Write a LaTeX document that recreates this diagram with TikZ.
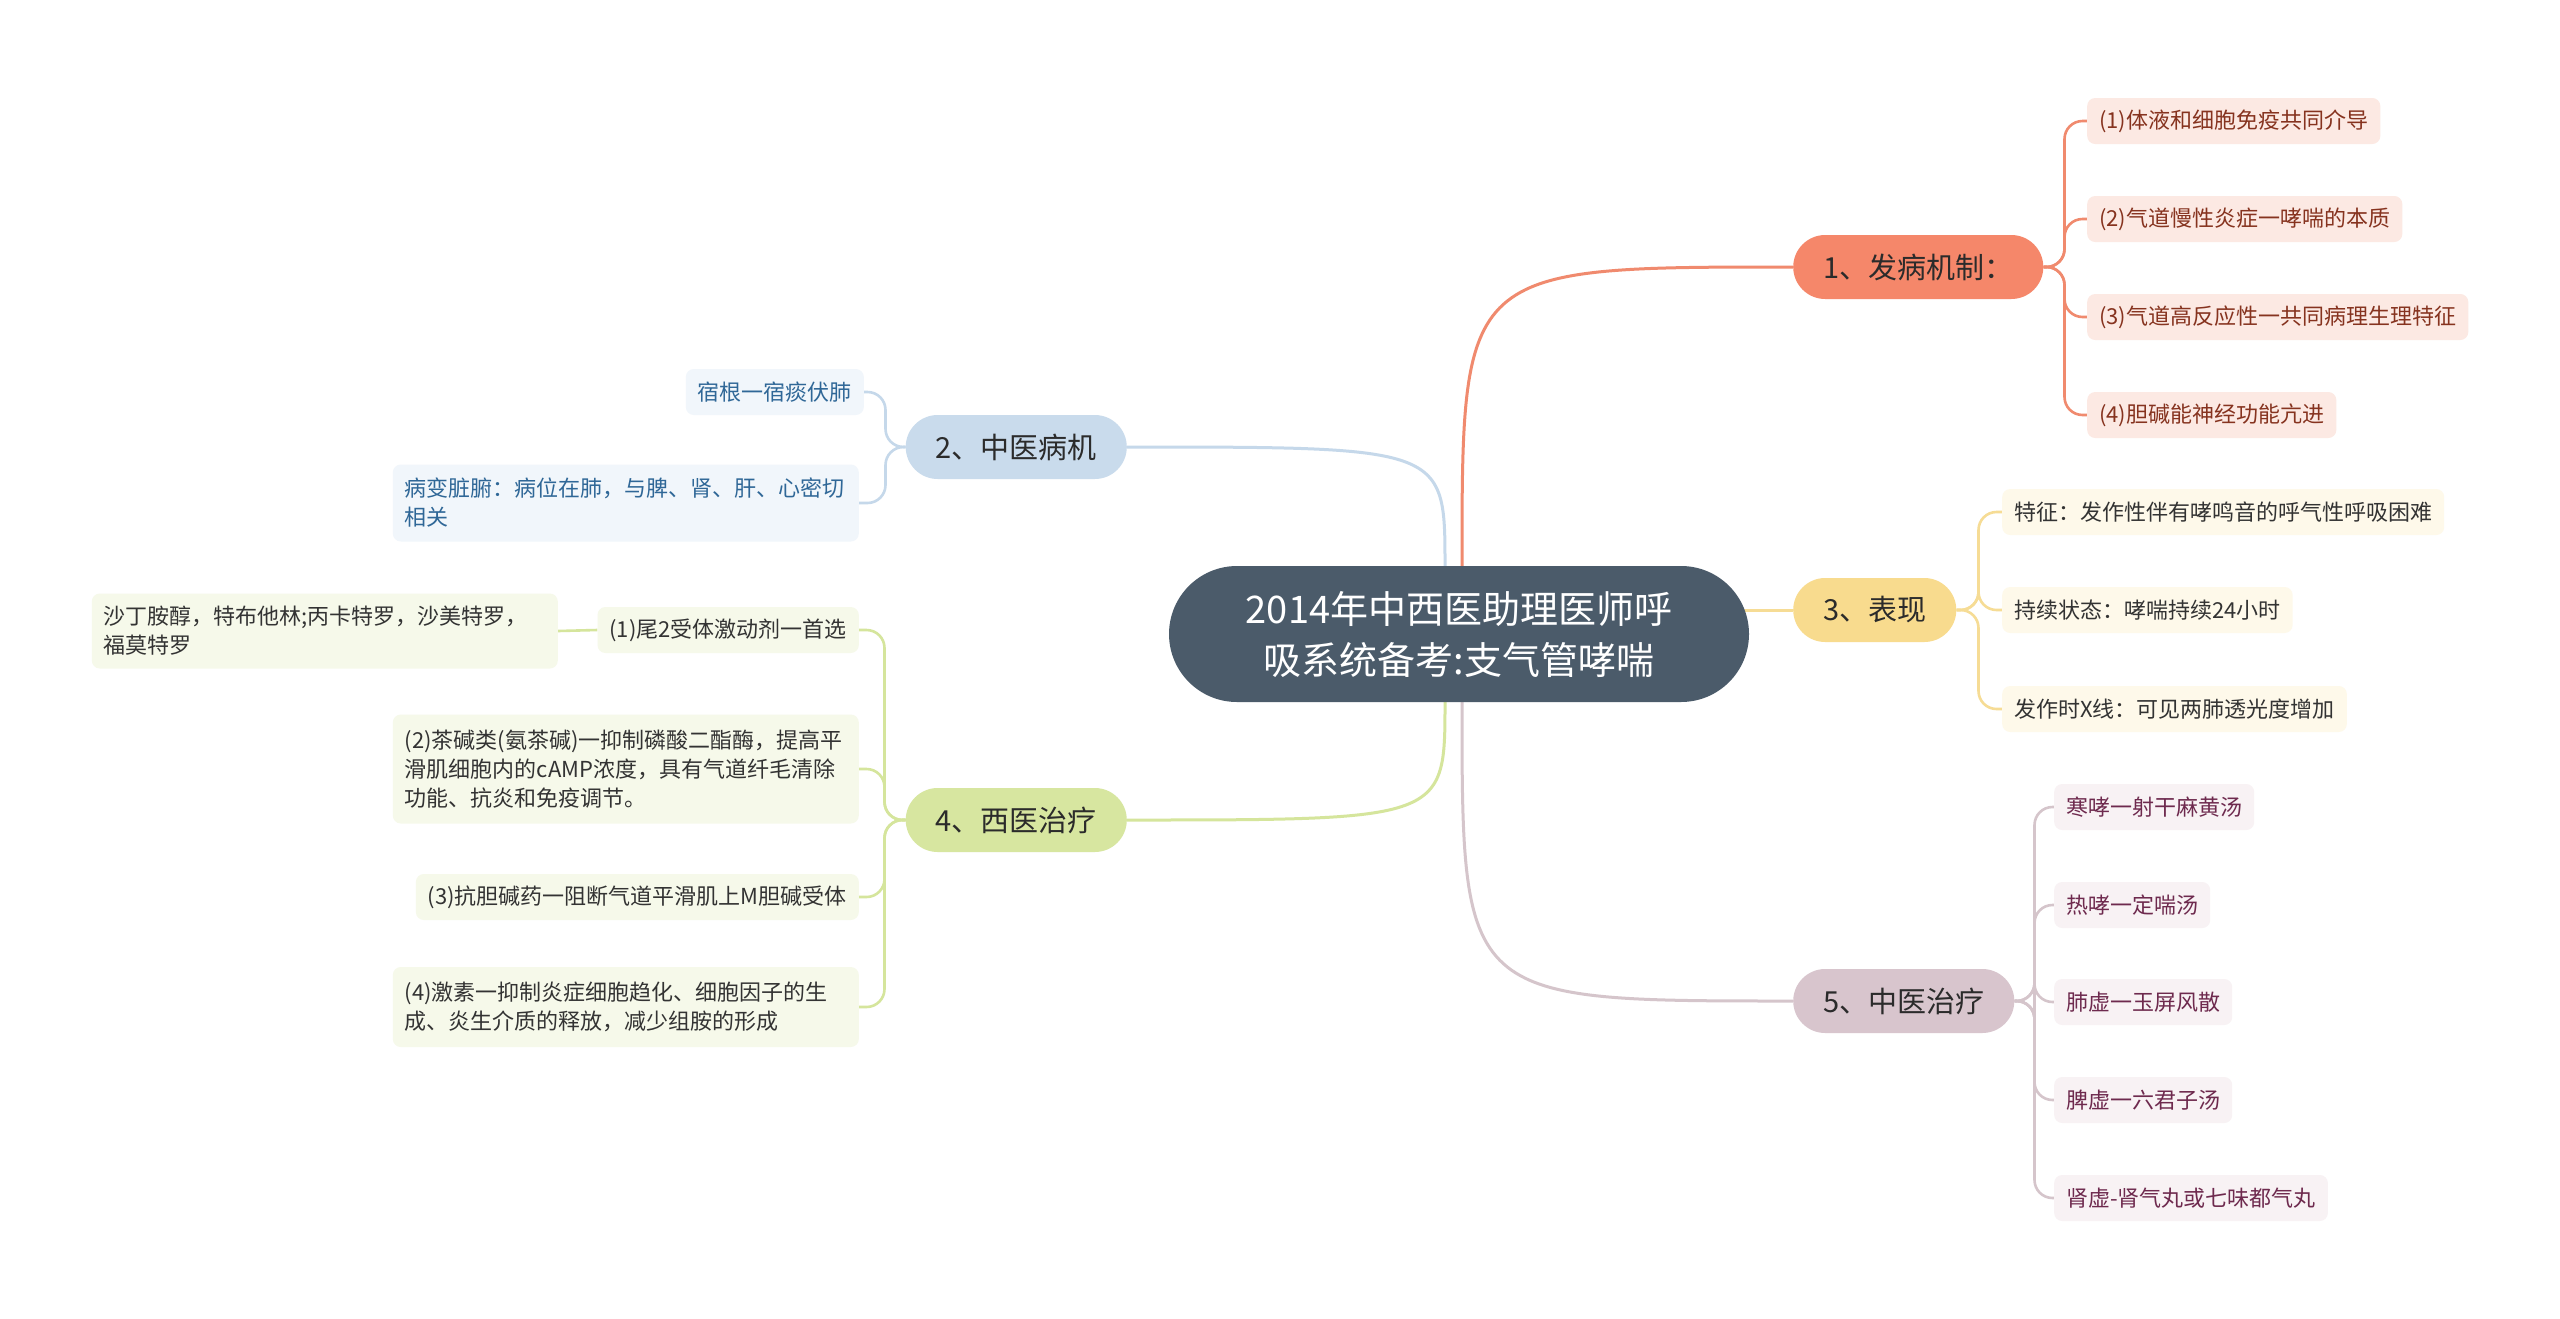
\documentclass[tikz,border=0pt]{standalone}
\usepackage{fontspec}
\setmainfont{Noto Sans CJK SC}
\usetikzlibrary{backgrounds}
\definecolor{rootfill}{HTML}{4B5B6A}
\definecolor{topictext}{HTML}{2B2B2B}
\definecolor{plainink}{HTML}{333333}
\definecolor{onetone}{HTML}{F5876A}
\definecolor{oneline}{HTML}{F08A6E}
\definecolor{onesoft}{HTML}{FCE9E3}
\definecolor{oneink}{HTML}{86331F}
\definecolor{twotone}{HTML}{C9DBEC}
\definecolor{twoline}{HTML}{C5D8EA}
\definecolor{twosoft}{HTML}{F1F6FB}
\definecolor{twoink}{HTML}{2F6797}
\definecolor{threetone}{HTML}{F8DB8E}
\definecolor{threeline}{HTML}{F6DC95}
\definecolor{threesoft}{HTML}{FEF9EA}
\definecolor{fourtone}{HTML}{D7E6A0}
\definecolor{fourline}{HTML}{D5E59C}
\definecolor{foursoft}{HTML}{F6F9EA}
\definecolor{fivetone}{HTML}{D8C5CD}
\definecolor{fiveline}{HTML}{D5C5CB}
\definecolor{fivesoft}{HTML}{F8F2F4}
\definecolor{fiveink}{HTML}{6E2A4E}
\tikzset{
  hubbox/.style={fill=rootfill, text=white, rounded corners=68pt, minimum width=580pt, minimum height=136pt, align=center, font=\fontsize{38}{51}\selectfont},
  topicbox/.style={fill=#1, text=topictext, rounded corners=32pt, minimum height=64pt, inner xsep=30pt, inner ysep=0pt, font=\fontsize{29}{34}\selectfont},
  leafbox/.style={rounded corners=8pt, minimum height=46pt, inner xsep=12pt, inner ysep=8pt, align=left, font=\fontsize{22}{29}\selectfont},
  wideleaf/.style={text width=442pt},
  oneleaf/.style={leafbox, fill=onesoft, text=oneink, anchor=west},
  twoleaf/.style={leafbox, fill=twosoft, text=twoink, anchor=east},
  threeleaf/.style={leafbox, fill=threesoft, text=plainink, anchor=west},
  fourleaf/.style={leafbox, fill=foursoft, text=plainink, anchor=east},
  fiveleaf/.style={leafbox, fill=fivesoft, text=fiveink, anchor=west},
  limb/.style={draw=#1, line width=3pt},
  twig/.style={draw=#1, line width=2.6pt, rounded corners=18pt},
}

\begin{document}
\begin{tikzpicture}[x=1pt, y=-1pt]
    \useasboundingbox (0,0) rectangle (2560,1318);
    \node[hubbox] (root) at (1459,634) {2014年中西医助理医师呼\\吸系统备考:支气管哮喘};

    \node[topicbox=onetone, anchor=west] (b1) at (1793,267) {1、发病机制：};
    \node[topicbox=twotone, anchor=east] (b2) at (1127,447) {2、中医病机};
    \node[topicbox=threetone, anchor=west] (b3) at (1793,610) {3、表现};
    \node[topicbox=fourtone, anchor=east] (b4) at (1127,820) {4、西医治疗};
    \node[topicbox=fivetone, anchor=west] (b5) at (1793,1001) {5、中医治疗};

    \node[oneleaf] (l11) at (2087,121) {(1)体液和细胞免疫共同介导};
    \node[oneleaf] (l12) at (2087,219) {(2)气道慢性炎症一哮喘的本质};
    \node[oneleaf] (l13) at (2087,317) {(3)气道高反应性一共同病理生理特征};
    \node[oneleaf] (l14) at (2087,415) {(4)胆碱能神经功能亢进};

    \node[twoleaf] (l21) at (864,392) {宿根一宿痰伏肺};
    \node[twoleaf, wideleaf, minimum height=77pt] (l22) at (859,503) {病变脏腑：病位在肺，与脾、肾、肝、心密切\\相关};

    \node[threeleaf] (l31) at (2002,512) {特征：发作性伴有哮鸣音的呼气性呼吸困难};
    \node[threeleaf] (l32) at (2002,610) {持续状态：哮喘持续24小时};
    \node[threeleaf] (l33) at (2002,709) {发作时X线：可见两肺透光度增加};

    \node[fourleaf] (l41) at (859,630) {(1)尾2受体激动剂一首选};
    \node[fourleaf, wideleaf, minimum height=75pt] (g41) at (558,631) {沙丁胺醇，特布他林;丙卡特罗，沙美特罗，\\福莫特罗};
    \node[fourleaf, wideleaf, minimum height=109pt] (l42) at (859,769) {(2)茶碱类(氨茶碱)一抑制磷酸二酯酶，提高平\\滑肌细胞内的cAMP浓度，具有气道纤毛清除\\功能、抗炎和免疫调节。};
    \node[fourleaf] (l43) at (859,897) {(3)抗胆碱药一阻断气道平滑肌上M胆碱受体};
    \node[fourleaf, wideleaf, minimum height=80pt] (l44) at (859,1007) {(4)激素一抑制炎症细胞趋化、细胞因子的生\\成、炎生介质的释放，减少组胺的形成};

    \node[fiveleaf] (l51) at (2054,807) {寒哮一射干麻黄汤};
    \node[fiveleaf] (l52) at (2054,905) {热哮一定喘汤};
    \node[fiveleaf] (l53) at (2054,1002) {肺虚一玉屏风散};
    \node[fiveleaf] (l54) at (2054,1100) {脾虚一六君子汤};
    \node[fiveleaf] (l55) at (2054,1198) {肾虚-肾气丸或七味都气丸};

    \coordinate (rt) at ([xshift=3pt]root.north);
    \coordinate (lt) at ([xshift=-14pt]root.north);
    \coordinate (rb) at ([xshift=3pt]root.south);
    \coordinate (lb) at ([xshift=-14pt]root.south);

    \begin{scope}[on background layer]
      \fill[white] (0,0) rectangle (2560,1318);
      \draw[limb=oneline] (rt |- root.center) -- (rt) .. controls (rt |- b1.west) .. (b1.west);
      \draw[limb=twoline] (lt |- root.center) -- (lt) .. controls (lt |- b2.east) .. (b2.east);
      \draw[limb=threeline] (root.center |- b3.west) -- (b3.west);
      \draw[limb=fourline] (lb |- root.center) -- (lb) .. controls (lb |- b4.east) .. (b4.east);
      \draw[limb=fiveline] (rb |- root.center) -- (rb) .. controls (rb |- b5.west) .. (b5.west);

      \foreach \k in {1,...,4}
        \draw[twig=oneline] (b1.east) -- ++(21,0) |- (l1\k.west);
      \foreach \k in {1,2}
        \draw[twig=twoline] (b2.west) -- ++(-20,0) |- (l2\k.east);
      \foreach \k in {1,2,3}
        \draw[twig=threeline] (b3.east) -- ++(22,0) |- (l3\k.west);
      \foreach \k in {1,...,4}
        \draw[twig=fourline] (b4.west) -- ++(-21,0) |- (l4\k.east);
      \draw[twig=fourline] (l41.west) -- (g41.east);
      \foreach \k in {1,...,5}
        \draw[twig=fiveline] (b5.east) -- ++(20,0) |- (l5\k.west);
    \end{scope}
\end{tikzpicture}
\end{document}
